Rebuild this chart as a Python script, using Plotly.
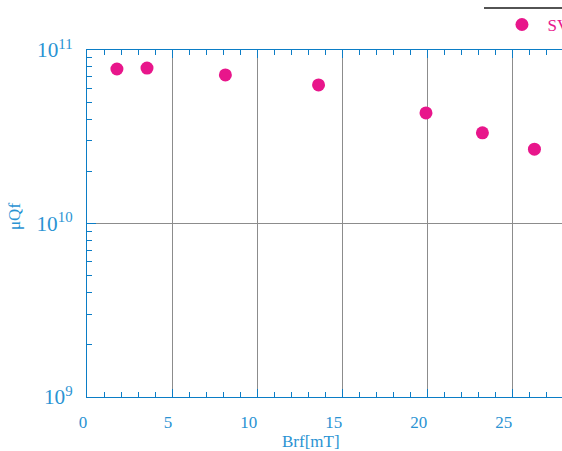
import plotly.graph_objects as go

# Data
brf_mT = [1.76, 3.53, 8.14, 13.62, 19.94, 23.26, 26.32]
mu_qf = [7.77e10, 7.87e10, 7.18e10, 6.29e10, 4.34e10, 3.33e10, 2.68e10]
series_name = "SV"
x_tick_vals = [0, 5, 10, 15, 20, 25]
x_tick_text = ["0", "5", "10\u00a0\u00a0", "15\u00a0\u00a0", "20\u00a0\u00a0", "25\u00a0\u00a0"]
x_title = "Brf[mT]"
y_title = "μQf"

AXIS_BLUE = "#0b7dc6"
LABEL_BLUE = "#2a93d3"
PINK = "#e8168b"
GRID = "#8c8c8c"
FONT = "Liberation Serif"

fig = go.Figure()
fig.add_trace(go.Scatter(
    x=brf_mT, y=mu_qf, mode="markers", name=series_name,
    marker=dict(color=PINK, size=13, line=dict(width=0)),
))

fig.update_layout(
    width=562, height=451,
    margin=dict(l=87, r=0, t=50, b=54, autoexpand=False),
    paper_bgcolor="white", plot_bgcolor="white",
    font=dict(family=FONT, size=17, color=LABEL_BLUE),
    showlegend=True,
    legend=dict(
        x=0.862, y=1.124, xanchor="left", yanchor="top",
        bgcolor="rgba(0,0,0,0)", borderwidth=0, itemwidth=41,
        font=dict(family=FONT, size=17, color=PINK),
    ),
    xaxis=dict(
        range=[0, 475 / 17], tickvals=x_tick_vals, ticktext=x_tick_text,
        ticks="inside", ticklen=8, tickcolor=AXIS_BLUE, tickwidth=1,
        ticklabelshift=-4, ticklabelstandoff=10,
        showline=True, linecolor=AXIS_BLUE, linewidth=1, mirror="ticks",
        showgrid=True, gridcolor=GRID, gridwidth=1, zeroline=False,
        tickfont=dict(family=FONT, size=17, color=LABEL_BLUE),
        minor=dict(dtick=1, ticks="inside", ticklen=5, tickcolor=AXIS_BLUE, showgrid=False),
    ),
    yaxis=dict(
        type="log", range=[9, 11], dtick=1, exponentformat="power",
        ticks="inside", ticklen=9, tickcolor=AXIS_BLUE, tickwidth=1,
        ticklabelstandoff=10,
        showline=True, linecolor=AXIS_BLUE, linewidth=1, mirror=False,
        showgrid=True, gridcolor=GRID, gridwidth=1, zeroline=False,
        tickfont=dict(family=FONT, size=17, color=LABEL_BLUE),
        minor=dict(dtick="D1", ticks="inside", ticklen=5, tickcolor=AXIS_BLUE, showgrid=False),
    ),
    shapes=[dict(
        type="line", xref="paper", yref="paper",
        x0=(484 - 87) / 475, x1=1.05, y0=1 + 42 / 347, y1=1 + 42 / 347,
        line=dict(color="#1a1a1a", width=1.5),
    )],
    annotations=[
        dict(text=x_title, xref="paper", yref="paper", x=(342 - 87) / 475, y=-44 / 347,
             xanchor="right", yanchor="middle", showarrow=False,
             font=dict(family=FONT, size=17, color=LABEL_BLUE)),
        dict(text=y_title, xref="paper", yref="paper", x=-73 / 475, y=(397 - 217) / 347,
             xanchor="center", yanchor="middle", showarrow=False, textangle=-90,
             font=dict(family=FONT, size=17, color=LABEL_BLUE)),
    ],
)

fig.write_html("out.html")
